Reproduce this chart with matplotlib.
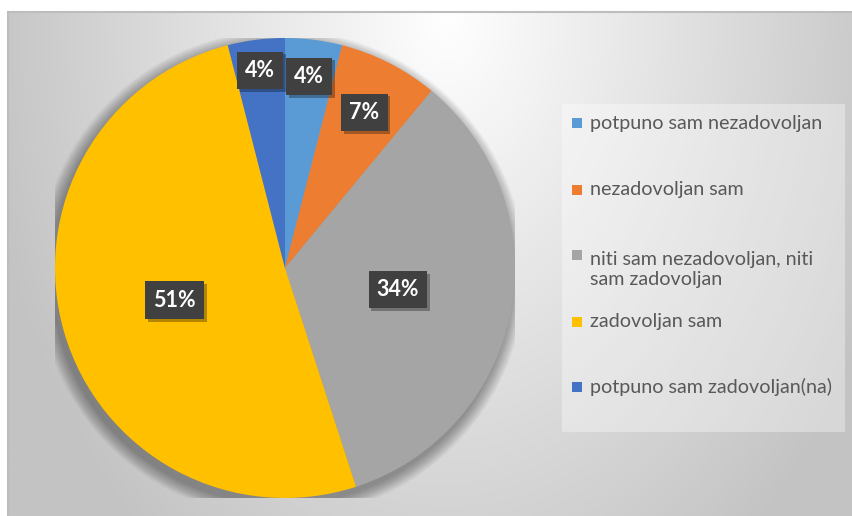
import numpy as np
import matplotlib
matplotlib.use("Agg")
import matplotlib.pyplot as plt
from matplotlib.patches import Rectangle, Circle
import matplotlib.patheffects as pe

# ---- data ----
categories = ["potpuno sam nezadovoljan", "nezadovoljan sam",
              "niti sam nezadovoljan, niti\nsam zadovoljan", "zadovoljan sam",
              "potpuno sam zadovoljan(na)"]
values = [4, 7, 34, 51, 4]
pct_labels = ["4%", "7%", "34%", "51%", "4%"]
colors = ["#5B9BD5", "#ED7D31", "#A5A5A5", "#FFC000", "#4472C4"]
label_radius = [0.84, 0.76, 0.50, 0.50, 0.866]

W, H = 852, 516
fig = plt.figure(figsize=(W / 100, H / 100), dpi=100)
fig.patch.set_facecolor("white")


def fx(px):
    return px / W


def fy(py):  # py measured from top
    return 1 - py / H


# ---- background panel with gradient ----
bx0, by0 = 8, 12
bg = fig.add_axes([fx(bx0), 0, fx(W - bx0), fy(by0)])
xs = np.linspace(bx0, W, 400)
ys = np.linspace(by0, H, 250)
X, Y = np.meshgrid(xs, ys)
t = np.sqrt(((X - 447) / 475) ** 2 + ((Y - 15) / 688) ** 2)
t = np.clip(t, 0, 1)
g = (255 - 60 * t) / 255
img = np.dstack([g, g, g])
bg.imshow(img, extent=[0, 1, 0, 1], aspect="auto", origin="upper",
          interpolation="bilinear")
bg.set_xlim(0, 1)
bg.set_ylim(0, 1)
bg.set_xticks([])
bg.set_yticks([])
for s in ["bottom", "right"]:
    bg.spines[s].set_visible(False)
for s in ["top", "left"]:
    bg.spines[s].set_color("#bdbdbd")
    bg.spines[s].set_linewidth(1.5)

# ---- pie ----
cx, cy, R = 285, 268, 230
ax = fig.add_axes([fx(cx - R), 1 - (cy + R) / H, 2 * R / W, 2 * R / H])
ax.set_facecolor("none")

# soft shadow
n_sh = 16
for i in range(n_sh):
    ax.add_patch(Circle((-0.015, -0.025), 1.0 + 0.06 * (n_sh - i) / n_sh,
                        facecolor="black", edgecolor="none", alpha=0.022,
                        zorder=0))

wedges, _ = ax.pie(values, colors=colors, startangle=90, counterclock=False,
                   radius=1.0, wedgeprops=dict(linewidth=0))
for w in wedges:
    w.set_zorder(2)
ax.set_xlim(-1, 1)
ax.set_ylim(-1, 1)
ax.set_aspect("equal")
ax.axis("off")

for w, lab, rf in zip(wedges, pct_labels, label_radius):
    ang = np.deg2rad((w.theta1 + w.theta2) / 2)
    x, y = rf * np.cos(ang), rf * np.sin(ang)
    txt = ax.text(x, y, lab, ha="center", va="center", fontsize=15.5,
                  fontweight="bold", family=["Lato", "DejaVu Sans"],
                  color="white", zorder=4,
                  bbox=dict(boxstyle="square,pad=0.38", facecolor="#404040",
                            edgecolor="none"))
    txt.get_bbox_patch().set_path_effects(
        [pe.SimplePatchShadow(offset=(2, -2), shadow_rgbFace="black",
                              alpha=0.3), pe.Normal()])

# ---- legend ----
lx0, ly0, lx1, ly1 = 562, 104, 845, 432
fig.patches.append(Rectangle((fx(lx0), fy(ly1)), fx(lx1 - lx0), (ly1 - ly0) / H,
                             transform=fig.transFigure, facecolor="white",
                             alpha=0.35, edgecolor="none", zorder=1))
item_y = [123, 190, 255, 322, 387]
line_px = 25
for lab, c, yc in zip(categories, colors, item_y):
    fig.patches.append(Rectangle((fx(572), fy(yc + 5)), fx(10), 10 / H,
                                 transform=fig.transFigure, facecolor=c,
                                 edgecolor="none", zorder=2))
    nlines = lab.count("\n")
    fig.text(fx(590), fy(yc + 5.5 + nlines * line_px), lab, ha="left",
             va="baseline", fontsize=14.2, family=["Lato", "DejaVu Sans"],
             color="#595959", linespacing=1.25, zorder=3)

fig.savefig("out.png", dpi=100, facecolor="white")
